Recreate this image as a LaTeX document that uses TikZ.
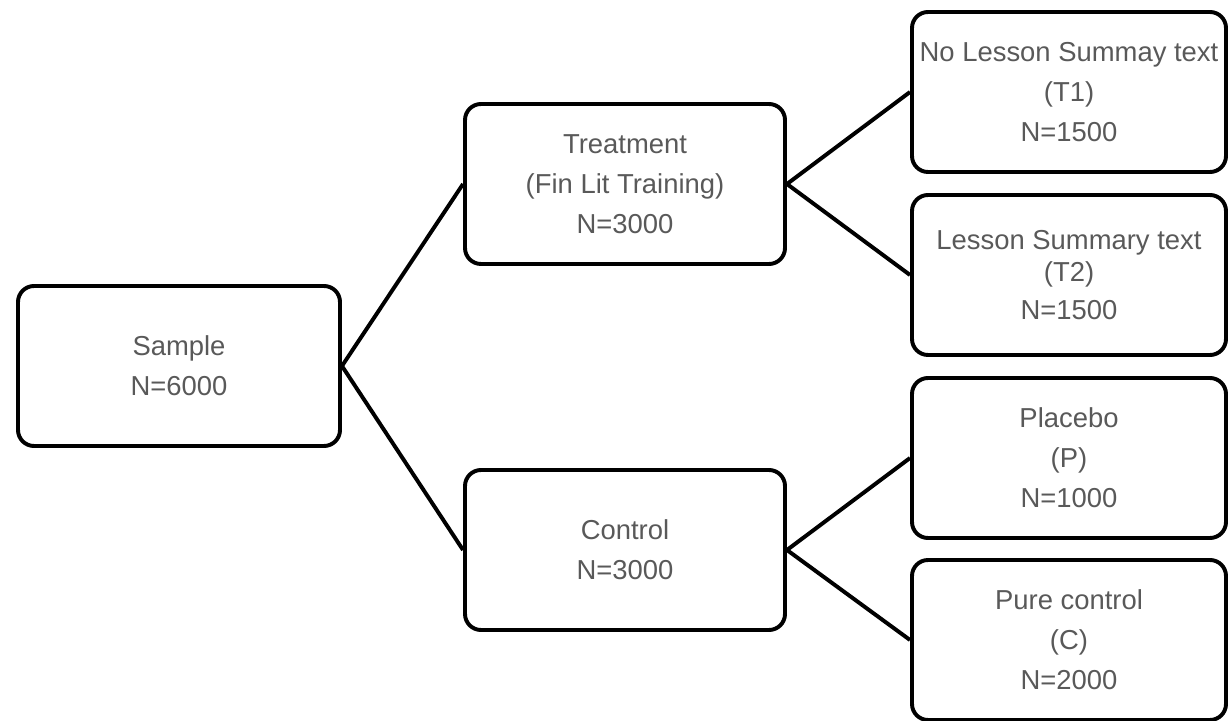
\documentclass[tikz,border=0pt]{standalone}
\usepackage{fontspec}
\setmainfont{Liberation Sans}
\definecolor{txtgray}{HTML}{595959}

\begin{document}
\begin{tikzpicture}[
  armbox/.style={draw=black,line width=2.8pt,rounded corners=0.4cm,shape=rectangle,
    minimum height=4cm,align=center,text=txtgray,
    font=\fontsize{19.5}{28.45}\selectfont},
  branch/.style={black,line width=2.8pt}
]

%% - Fix picture size
%% - --------------------------------------

\useasboundingbox (0,0) rectangle (30.7,18);

%% - Draw boxes
%% - --------------------------------------

\node[armbox,minimum width=8.05cm] (sample) at (4.475,8.85) {Sample\\N=6000};

\node[armbox,minimum width=8cm] (treat) at (15.625,13.4) {Treatment\\(Fin Lit Training)\\N=3000};
\node[armbox,minimum width=8cm] (ctrl) at (15.625,4.25) {Control\\N=3000};

\node[armbox,minimum width=7.85cm] (tone) at (26.725,15.7) {No Lesson Summay text\\(T1)\\N=1500};
\node[armbox,minimum width=7.85cm] (ttwo) at (26.725,11.125) {Lesson Summary text\\[-0.22cm](T2)\\[-0.05cm]N=1500};
\node[armbox,minimum width=7.85cm] (plac) at (26.725,6.55) {Placebo\\(P)\\N=1000};
\node[armbox,minimum width=7.85cm] (pure) at (26.725,2.0) {Pure control\\(C)\\N=2000};

%% - Draw branches
%% - --------------------------------------

\draw[branch] (sample.east) -- (treat.west);
\draw[branch] (sample.east) -- (ctrl.west);
\draw[branch] (treat.east) -- (tone.west);
\draw[branch] (treat.east) -- (ttwo.west);
\draw[branch] (ctrl.east) -- (plac.west);
\draw[branch] (ctrl.east) -- (pure.west);

\end{tikzpicture}
\end{document}
